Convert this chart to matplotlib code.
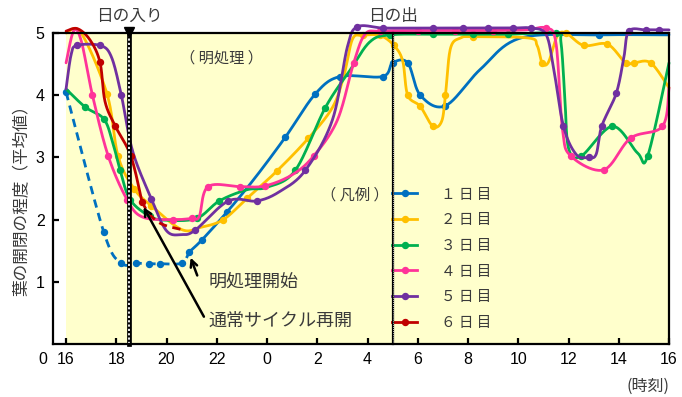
import numpy as np
import matplotlib
matplotlib.use("Agg")
import matplotlib.pyplot as plt
from matplotlib.lines import Line2D

plt.rcParams['font.family'] = ['Noto Sans CJK JP', 'DejaVu Sans']

# ---- data (hours counted continuously from 16:00 of day 1; 24 = 0:00, 40 = 16:00 next day)
day1_pre_x = [16.0, 17.5, 18.2, 18.8, 19.3, 19.75, 20.6, 20.9]
day1_pre_y = [4.05, 1.80, 1.30, 1.30, 1.29, 1.29, 1.30, 1.48]
day1_x = [20.9, 21.4, 22.4, 23.5, 24.72, 25.92, 26.9, 28.6, 29.0, 29.6, 30.1, 31.1,
          32.5, 34.1, 37.2, 40.0]
day1_y = [1.48, 1.67, 2.12, 2.66, 3.32, 4.02, 4.30, 4.30, 4.52, 4.52, 4.00, 3.83,
          4.42, 4.92, 4.97, 4.97]

day2_x = [16.0, 16.6, 17.63, 18.07, 18.7, 19.4, 20.6, 21.4, 22.26, 23.2, 24.39, 25.65,
          26.6, 27.05, 27.4, 27.8, 28.5, 29.05, 29.4, 29.6, 30.1, 30.6, 30.95, 31.1,
          31.3, 31.7, 32.2, 34.4, 34.75, 34.95, 35.2, 35.55, 35.9, 36.6, 37.55, 38.27,
          38.6, 39.27, 40.0]
day2_y = [5.00, 5.00, 4.02, 3.02, 2.50, 2.22, 1.84, 1.88, 2.00, 2.34, 2.78, 3.31,
          3.80, 4.30, 4.90, 4.96, 4.96, 4.80, 4.55, 4.00, 3.82, 3.50, 3.58, 4.00,
          4.75, 4.92, 4.94, 4.92, 4.80, 4.52, 4.53, 4.95, 5.00, 4.80, 4.82, 4.52,
          4.52, 4.52, 4.12]

day3_x = [16.0, 16.76, 17.5, 17.85, 18.15, 18.55, 19.35, 20.0, 21.2, 22.1, 23.2, 24.0,
          25.12, 26.32, 27.3, 28.1, 28.9, 30.6, 32.2, 33.6, 35.5, 35.7, 35.85, 36.0,
          36.5, 37.75, 38.75, 39.15, 40.0]
day3_y = [4.10, 3.81, 3.62, 3.25, 2.80, 2.32, 2.05, 1.99, 2.02, 2.30, 2.48, 2.52,
          2.79, 3.80, 4.40, 4.86, 4.97, 4.98, 4.98, 4.98, 5.00, 4.85, 4.00, 3.15,
          3.02, 3.50, 3.07, 3.02, 4.52]

day4_x = [16.0, 16.3, 16.6, 17.05, 17.68, 18.43, 19.05, 20.27, 21.0, 21.3, 21.65, 22.93,
          23.9, 25.0, 25.85, 26.8, 27.45, 27.9, 28.5, 30.0, 31.5, 33.0, 34.3, 35.1,
          35.5, 35.76, 36.1, 37.4, 38.47, 39.74, 40.0]
day4_y = [4.52, 5.03, 4.88, 4.00, 3.02, 2.32, 2.04, 2.00, 2.02, 2.05, 2.53, 2.53,
          2.54, 2.72, 3.02, 3.60, 4.52, 4.98, 5.03, 5.04, 5.04, 5.04, 5.05, 5.08,
          4.84, 3.45, 3.02, 2.80, 3.31, 3.50, 4.12]

day5_x = [16.0, 16.2, 16.43, 17.35, 17.8, 18.2, 18.65, 19.4, 20.0, 20.6, 21.14, 22.46,
          23.6, 24.5, 25.52, 26.6, 27.2, 27.6, 28.6, 29.6, 30.6, 31.8, 32.8, 33.8,
          34.5, 35.1, 35.4, 35.8, 36.3, 36.8, 37.1, 37.32, 37.9, 38.2, 38.4, 39.07,
          39.6, 40.0]
day5_y = [4.10, 4.65, 4.80, 4.80, 4.62, 4.00, 3.10, 2.33, 1.82, 1.76, 1.83, 2.30,
          2.30, 2.45, 2.79, 3.60, 4.78, 5.10, 5.08, 5.08, 5.08, 5.08, 5.08, 5.08,
          5.08, 4.98, 4.45, 3.50, 3.05, 3.00, 3.05, 3.50, 4.03, 4.60, 5.03, 5.05,
          5.05, 5.05]

day6_x = [16.0, 16.45, 16.95, 17.35, 17.55, 17.95, 18.58, 19.02]
day6_y = [5.03, 5.07, 4.89, 4.53, 3.90, 3.51, 3.02, 2.29]
day6_post_x = [19.02, 19.3, 19.8, 20.7]
day6_post_y = [2.29, 2.10, 1.93, 1.83]

# which readings carry a plotted dot
day1_pre_dots = [0, 1, 2, 3, 4, 5, 6]
day1_dots = [0, 1, 2, 4, 5, 6, 7, 8, 9, 10, 11, 14]
day2_dots = [2, 3, 4, 5, 8, 9, 10, 11, 15, 16, 17, 19, 20, 21, 23, 26, 29, 32, 33, 34,
             35, 36, 37]
day3_dots = [1, 2, 4, 5, 6, 8, 9, 12, 13, 16, 17, 18, 19, 20, 24, 25, 27]
day4_dots = [3, 4, 5, 7, 8, 10, 11, 12, 14, 16, 18, 19, 20, 21, 23, 26, 27, 28, 29]
day5_dots = [2, 3, 5, 7, 10, 11, 12, 14, 17, 18, 20, 21, 22, 23, 24, 27, 29, 31, 32,
             34, 35, 36]
day6_dots = [3, 5, 6, 7]

day_labels = ["１ 日 目", "２ 日 目", "３ 日 目", "４ 日 目", "５ 日 目", "６ 日 目"]
day_colors = ["#0070C0", "#FFC000", "#00B050", "#FF3399", "#7030A0", "#C00000"]

xtick_pos = list(range(16, 41, 2))
xtick_labels = ["16", "18", "20", "22", "0", "2", "4", "6", "8", "10", "12", "14", "16"]
ytick_pos = [1, 2, 3, 4, 5]

sunset_h = 18.5
sunrise_h = 29.0
light_start = (20.9, 1.48)
cycle_resume = (19.02, 2.29)


def smooth(xs, ys, n=24):
    """Smoothed polyline through the points (cubic Bezier / Catmull-Rom)."""
    p = np.column_stack([xs, ys]).astype(float)
    pe = np.vstack([p[0], p, p[-1]])
    segs = []
    for i in range(len(p) - 1):
        p0, p1, p2, p3 = pe[i], pe[i + 1], pe[i + 2], pe[i + 3]
        b1 = p1 + (p2 - p0) / 6.0
        b2 = p2 - (p3 - p1) / 6.0
        t = np.linspace(0, 1, n, endpoint=(i == len(p) - 2))[:, None]
        c = ((1 - t) ** 3) * p1 + 3 * (1 - t) ** 2 * t * b1 + 3 * (1 - t) * t ** 2 * b2 + t ** 3 * p2
        segs.append(c)
    s = np.vstack(segs)
    return s[:, 0], s[:, 1]


fig = plt.figure(figsize=(6.82, 3.97), dpi=100)
ax = fig.add_axes([53 / 682, 1 - 344 / 397, (669 - 53) / 682, (344 - 33) / 397])
ax.set_xlim(15.48, 40)
ax.set_ylim(0, 5)

# light-yellow plotting band
ax.axvspan(16, 40, color="#FFFFCC", zorder=0, lw=0)

LW = 2.0
MS = 4.3


def draw(xs, ys, dots, color, dashed=False, z=3):
    sx, sy = smooth(xs, ys)
    ax.plot(sx, sy, color=color, lw=LW, ls=(0, (3, 2)) if dashed else "-",
            clip_on=False, zorder=z, solid_capstyle="round")
    ax.plot([xs[i] for i in dots], [ys[i] for i in dots], "o", color=color, ms=MS,
            clip_on=False, zorder=z)


draw(day1_pre_x, day1_pre_y, day1_pre_dots, day_colors[0], dashed=True, z=3)
draw(day1_x, day1_y, day1_dots, day_colors[0], z=3)
draw(day2_x, day2_y, day2_dots, day_colors[1], z=4)
draw(day3_x, day3_y, day3_dots, day_colors[2], z=5)
draw(day4_x, day4_y, day4_dots, day_colors[3], z=6)
draw(day5_x, day5_y, day5_dots, day_colors[4], z=7)
draw(day6_x, day6_y, day6_dots, day_colors[5], z=8)
draw(day6_post_x, day6_post_y, [], day_colors[5], dashed=True, z=8)

# sunset / sunrise markers
ax.plot([sunset_h, sunset_h], [0, 5], color="black", lw=3.4, zorder=9, clip_on=False)
ax.plot([sunset_h, sunset_h], [0, 5], color="white", lw=1.3, ls=(0, (1.2, 1.2)),
        zorder=9, clip_on=False)
ax.plot([sunset_h], [5.02], marker="v", color="black", ms=6.5, zorder=10, clip_on=False)
ax.plot([sunrise_h, sunrise_h], [0, 5], color="black", lw=1.6, zorder=9, clip_on=False)
ax.plot([sunrise_h, sunrise_h], [0, 5], color="white", lw=0.6, ls=(0, (1, 1.5)),
        zorder=9, clip_on=False)

tc = "#3a3a3a"
ax.text(sunset_h, 5.26, "日の入り", ha="center", va="center", fontsize=12, color=tc)
ax.text(sunrise_h, 5.26, "日の出", ha="center", va="center", fontsize=12, color=tc)
ax.text(22.2, 4.6, "（ 明処理 ）", ha="center", va="center", fontsize=11, color=tc)
ax.text(27.5, 2.39, "（ 凡例 ）", ha="center", va="center", fontsize=11, color=tc)

ax.text(21.66, 1.01, "明処理開始", ha="left", va="center", fontsize=13, color=tc)
ax.text(21.66, 0.37, "通常サイクル再開", ha="left", va="center", fontsize=13, color=tc)
ax.annotate("", xy=(light_start[0] + 0.02, light_start[1] - 0.05), xytext=(21.26, 1.06),
            arrowprops=dict(arrowstyle="->", lw=1.8, color="black", mutation_scale=12),
            zorder=11)
ax.annotate("", xy=(cycle_resume[0] + 0.01, cycle_resume[1] - 0.05), xytext=(21.54, 0.40),
            arrowprops=dict(arrowstyle="->", lw=1.8, color="black", mutation_scale=12),
            zorder=11)

# legend
handles = [Line2D([], [], color=c, lw=LW, marker="o", ms=MS) for c in day_colors]
ax.legend(handles, day_labels, loc="upper left", bbox_to_anchor=(0.55, 0.503),
          frameon=False, fontsize=10.5, handlelength=1.75, handletextpad=1.6,
          labelspacing=0.8, borderaxespad=0, borderpad=0,
          labelcolor=tc)

# axes styling
for s in ax.spines.values():
    s.set_linewidth(1.6)
    s.set_color("black")
    s.set_zorder(12)
ax.set_xticks(xtick_pos)
ax.set_xticklabels(xtick_labels)
ax.set_yticks(ytick_pos)
ax.tick_params(direction="in", length=4, width=1.6, pad=6, labelsize=11.5)
for lab in ax.get_xticklabels() + ax.get_yticklabels():
    lab.set_family("Liberation Sans")
ax.text(15.08, -0.245, "0", ha="center", va="center", fontsize=11.5,
        family="Liberation Sans", clip_on=False)

fig.text(22 / 682, 1 - 196 / 397, "葉の開閉の程度（平均値）", rotation=90,
         ha="center", va="center", fontsize=12, color=tc)
fig.text(648 / 682, 1 - 386 / 397, "(時刻)", ha="center", va="center",
         fontsize=11.5, color=tc)

fig.savefig("out.png", dpi=100)
